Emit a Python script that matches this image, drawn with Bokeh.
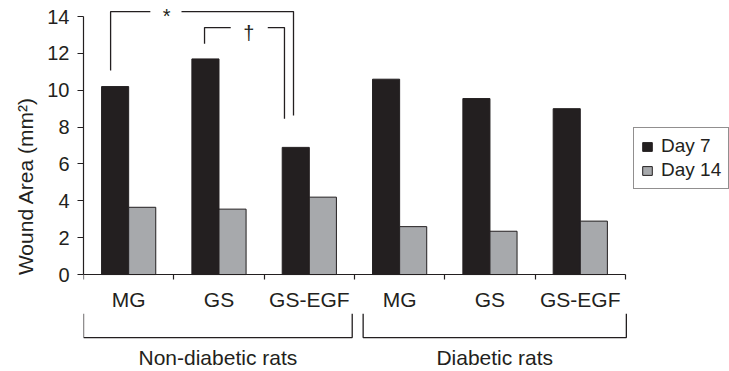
from bokeh.plotting import figure
from bokeh.models import FixedTicker, Legend, LegendItem, Range1d, ColumnDataSource
from bokeh.core.properties import value
from bokeh.embed import file_html
from bokeh.resources import INLINE
import numpy as np

# ---- data ----
categories = ["MG", "GS", "GS-EGF", "MG", "GS", "GS-EGF"]
groups = ["Non-diabetic rats", "Diabetic rats"]
day7 = [10.2, 11.7, 6.9, 10.6, 9.55, 9.0]
day14 = [3.65, 3.55, 4.2, 2.6, 2.35, 2.9]
y_ticks = [0, 2, 4, 6, 8, 10, 12, 14]
series = ["Day 7", "Day 14"]

FONT = "Liberation Sans"
INK = "#231f20"
GRAY = "#a7a9ac"

n = len(categories)
idx = np.arange(n)

p = figure(width=729, height=371, output_backend="svg", toolbar_location=None,
           x_range=Range1d(0, 7.152), y_range=Range1d(-5.26, 14.87),
           min_border=0, min_border_left=83, min_border_right=0,
           min_border_top=0, min_border_bottom=0)
p.outline_line_color = None
p.xgrid.visible = False
p.ygrid.visible = False
p.background_fill_color = "white"

src = ColumnDataSource(dict(x7=idx + 0.35, x14=idx + 0.65, d7=day7, d14=day14))
r7 = p.vbar(x="x7", top="d7", bottom=0, width=0.3, source=src,
            fill_color=INK, line_color=INK, line_width=1)
r14 = p.vbar(x="x14", top="d14", bottom=0, width=0.3, source=src,
             fill_color=GRAY, line_color=INK, line_width=1)

# y axis
ya = p.yaxis[0]
ya.bounds = (0, 14)
ya.ticker = FixedTicker(ticks=y_ticks)
ya.major_tick_out = 6
ya.major_tick_in = 0
ya.minor_tick_line_color = None
ya.axis_line_color = INK
ya.axis_line_width = 1.2
ya.major_tick_line_color = INK
ya.major_tick_line_width = 1.2
ya.major_label_text_font = FONT
ya.major_label_text_font_size = "20px"
ya.major_label_text_color = INK
ya.major_label_standoff = 8
ya.axis_label = "Wound Area (mm²)"
ya.axis_label_text_font = FONT
ya.axis_label_text_font_size = "21px"
ya.axis_label_text_font_style = "normal"
ya.axis_label_text_color = INK
ya.axis_label_standoff = 7

# x axis at y = 0
xa = p.xaxis[0]
xa.fixed_location = 0
xa.bounds = (0, n)
centers = [float(i) + 0.5 for i in idx]
xa.ticker = FixedTicker(ticks=centers, minor_ticks=[float(i) for i in range(n + 1)])
xa.major_label_overrides = {c: lab for c, lab in zip(centers, categories)}
xa.major_tick_line_color = None
xa.major_tick_out = 5
xa.minor_tick_out = 5
xa.minor_tick_in = 0
xa.minor_tick_line_color = INK
xa.minor_tick_line_width = 1.2
xa.axis_line_color = INK
xa.axis_line_width = 1.2
xa.major_label_text_font = FONT
xa.major_label_text_font_size = "21px"
xa.major_label_text_color = INK
xa.major_label_standoff = 8

# group brackets below the axis
gx = [(0.0, 2.975), (3.096, 6.01)]
g_top, g_bot = -2.12, -3.42
p.multi_line(xs=[[a, a, b, b] for a, b in gx],
             ys=[[g_top, g_bot, g_bot, g_top] for _ in gx],
             line_color=INK, line_width=1.3)
p.text(x=[(a + b) / 2 for a, b in gx], y=[-4.48] * 2, text=groups,
       text_font=value(FONT), text_font_size="21px", text_color=INK,
       text_align="center", text_baseline="middle")

# significance brackets
star = dict(xl=0.30, xr=2.325, top=14.27, yl=11.07, yr=8.63, g0=0.74, g1=1.085)
dag = dict(xl=1.34, xr=2.225, top=13.4, yl=12.53, yr=8.46, g0=1.63, g1=2.04)
xs, ys = [], []
for b in (star, dag):
    xs += [[b["xl"], b["xl"], b["g0"]], [b["g1"], b["xr"], b["xr"]]]
    ys += [[b["yl"], b["top"], b["top"]], [b["top"], b["top"], b["yr"]]]
p.multi_line(xs=xs, ys=ys, line_color=INK, line_width=1.3)
p.text(x=[0.92, 1.83], y=[14.02, 13.13], text=["*", "†"],
       text_font=value(FONT), text_font_size="20px", text_color=INK,
       text_align="center", text_baseline="middle")

legend = Legend(items=[LegendItem(label=series[0], renderers=[r7]),
                       LegendItem(label=series[1], renderers=[r14])],
                location=(550, 182), orientation="vertical",
                border_line_color=INK, border_line_width=1,
                background_fill_color="white", background_fill_alpha=1,
                glyph_width=12, glyph_height=11, label_standoff=8,
                padding=7, spacing=2, margin=0,
                label_text_font=FONT, label_text_font_size="19px",
                label_text_color=INK)
p.add_layout(legend, "center")

open("out.html", "w").write(file_html(p, INLINE))
